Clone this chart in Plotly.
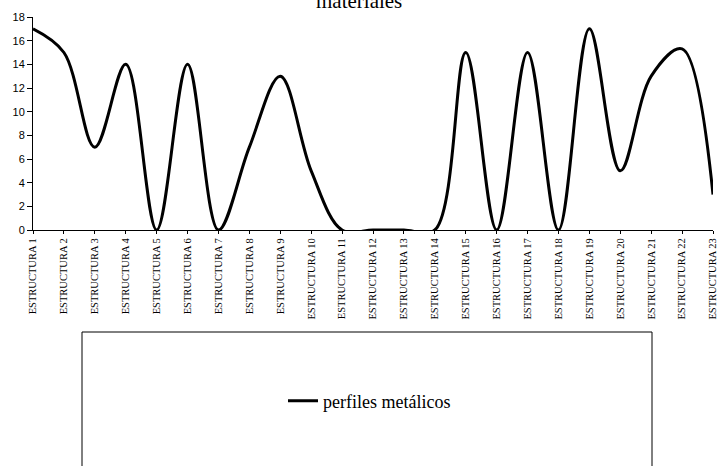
import plotly.graph_objects as go

categories = [f"ESTRUCTURA {i}" for i in range(1, 24)]
perfiles_metalicos = [17, 15, 7, 14, 0, 14, 0, 7, 13, 5, 0, 0, 0, 0,
                      15, 0, 15, 0, 17, 5, 13, 15.3, 3]
y_ticks = [0, 2, 4, 6, 8, 10, 12, 14, 16, 18]
title_text = "materiales"
series_name = "perfiles metálicos"

W, H = 717, 466
L, R, T, B = 33, 4, 17, 236
PW, PH = W - L - R, H - T - B


def px_x(p):
    return (p - L) / PW


def px_y(p):
    return (H - B - p) / PH


SERIF = "Liberation Serif, Times New Roman, serif"

fig = go.Figure()
fig.add_trace(go.Scatter(
    x=categories, y=perfiles_metalicos, mode="lines", name=series_name,
    line=dict(color="black", width=3, shape="spline", smoothing=1.0),
))

fig.update_layout(
    width=W, height=H,
    margin=dict(l=L, r=R, t=T, b=B, autoexpand=False),
    paper_bgcolor="white", plot_bgcolor="white",
    showlegend=True,
    legend=dict(x=px_x(283), xanchor="left", y=px_y(401), yanchor="middle",
                bgcolor="rgba(0,0,0,0)", borderwidth=0,
                font=dict(family=SERIF, size=18, color="black")),
    xaxis=dict(type="category", range=[0, len(categories) - 1],
               showline=True, linecolor="black", linewidth=1,
               ticks="outside", ticklen=3, tickcolor="black",
               tickangle=-90, showgrid=False, zeroline=False,
               tickfont=dict(family=SERIF, size=10.5, color="black")),
    yaxis=dict(range=[0, 18], tickvals=y_ticks,
               showline=True, linecolor="black", linewidth=1,
               ticks="outside", ticklen=5, tickcolor="black",
               showgrid=False, zeroline=False,
               tickfont=dict(family="Liberation Sans, Arial, sans-serif", size=11, color="black")),
    shapes=[dict(type="rect", xref="paper", yref="paper",
                 x0=px_x(82), x1=px_x(652), y0=px_y(490), y1=px_y(332),
                 line=dict(color="black", width=1), fillcolor="rgba(0,0,0,0)")],
    annotations=[dict(text=title_text, xref="paper", yref="paper",
                      x=px_x(359), y=px_y(15), xanchor="center", yanchor="bottom",
                      showarrow=False,
                      font=dict(family=SERIF, size=21, color="black"))],
)

fig.write_html("out.html")
